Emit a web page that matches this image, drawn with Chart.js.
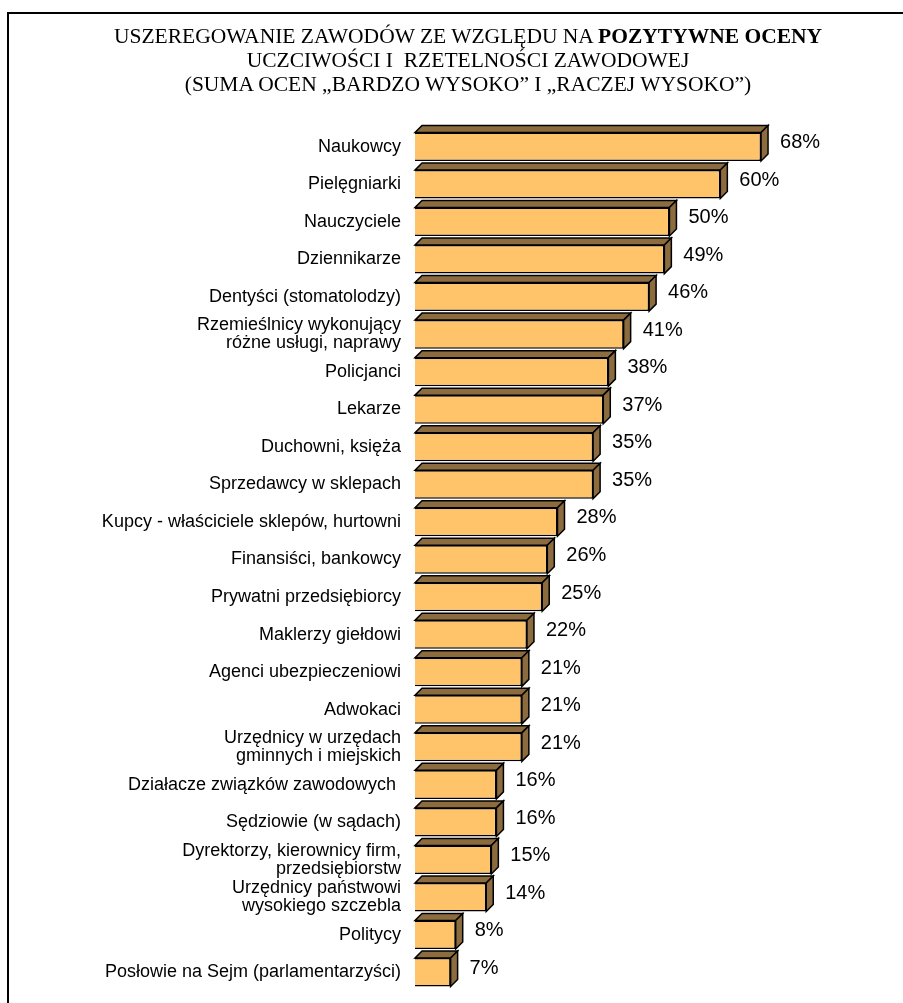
<!DOCTYPE html>
<html>
<head>
<meta charset="utf-8">
<script src="https://cdn.jsdelivr.net/npm/chart.js@4.4.1/dist/chart.umd.min.js"></script>
<style>
  html, body { margin: 0; padding: 0; background: #fff; }
  #wrap { position: relative; width: 903px; height: 1003px; overflow: hidden; }
  #frame { position: absolute; left: 7px; top: 12px; width: 940px; height: 1040px; border: 2px solid #000; box-sizing: border-box; }
  #title { position: absolute; left: 0; top: 24px; width: 936px; text-align: center;
           font-family: "Liberation Serif", "Times New Roman", serif; font-size: 21.5px; line-height: 24px; color: #000; }
  canvas { position: absolute; left: 0; top: 0; }
</style>
</head>
<body>
<div id="wrap">
  <div id="frame"></div>
  <canvas id="c" width="903" height="1003"></canvas>
  <div id="title">
    USZEREGOWANIE ZAWODÓW ZE WZGLĘDU NA <b>POZYTYWNE OCENY</b><br>
    UCZCIWOŚCI I&nbsp; RZETELNOŚCI ZAWODOWEJ<br>
    (SUMA OCEN „BARDZO WYSOKO” I „RACZEJ WYSOKO”)
  </div>
</div>
<script>
const categories = [
  "Naukowcy",
  "Pielęgniarki",
  "Nauczyciele",
  "Dziennikarze",
  "Dentyści (stomatolodzy)",
  ["Rzemieślnicy wykonujący", "różne usługi, naprawy"],
  "Policjanci",
  "Lekarze",
  "Duchowni, księża",
  "Sprzedawcy w sklepach",
  "Kupcy - właściciele sklepów, hurtowni",
  "Finansiści, bankowcy",
  "Prywatni przedsiębiorcy",
  "Maklerzy giełdowi",
  "Agenci ubezpieczeniowi",
  "Adwokaci",
  ["Urzędnicy w urzędach", "gminnych i miejskich"],
  "Działacze związków zawodowych ",
  "Sędziowie (w sądach)",
  ["Dyrektorzy, kierownicy firm,", "przedsiębiorstw"],
  ["Urzędnicy państwowi", "wysokiego szczebla"],
  "Politycy",
  "Posłowie na Sejm (parlamentarzyści)"
];
const values = [68, 60, 50, 49, 46, 41, 38, 37, 35, 35, 28, 26, 25, 22, 21, 21, 21, 16, 16, 15, 14, 8, 7];
const valueSuffix = "%";

const DEPTH = 7;
const FRONT = "#FFC46A";
const SIDE = "#8C6B3E";

const bar3d = {
  id: "bar3d",
  afterDatasetsDraw(chart) {
    const ctx = chart.ctx;
    const meta = chart.getDatasetMeta(0);
    ctx.save();
    ctx.lineJoin = "miter";
    meta.data.forEach((bar, i) => {
      const p = bar.getProps(["x", "y", "base", "height"], true);
      const l = p.base, r = p.x, t = p.y - p.height / 2, b = p.y + p.height / 2;
      ctx.fillStyle = SIDE;
      ctx.strokeStyle = "#000";
      ctx.lineWidth = 1.5;
      ctx.beginPath();
      ctx.moveTo(l, t); ctx.lineTo(l + DEPTH, t - DEPTH); ctx.lineTo(r + DEPTH, t - DEPTH); ctx.lineTo(r, t); ctx.closePath();
      ctx.fill(); ctx.stroke();
      ctx.beginPath();
      ctx.moveTo(r, t); ctx.lineTo(r + DEPTH, t - DEPTH); ctx.lineTo(r + DEPTH, b - DEPTH); ctx.lineTo(r, b); ctx.closePath();
      ctx.fill(); ctx.stroke();
      ctx.fillStyle = "#000";
      ctx.font = '20px "Liberation Sans", Arial, sans-serif';
      ctx.textAlign = "left";
      ctx.textBaseline = "middle";
      ctx.fillText(values[i] + valueSuffix, r + DEPTH + 12, p.y - 4);
    });
    ctx.restore();
  }
};

new Chart(document.getElementById("c"), {
  type: "bar",
  data: {
    labels: categories,
    datasets: [{
      data: values,
      backgroundColor: FRONT,
      borderColor: "#000",
      borderWidth: 1.5,
      barPercentage: 0.76,
      categoryPercentage: 1
    }]
  },
  options: {
    indexAxis: "y",
    responsive: false,
    animation: false,
    layout: { padding: { top: 128, bottom: 12, right: 30, left: 0 } },
    plugins: { legend: { display: false }, tooltip: { enabled: false }, title: { display: false } },
    scales: {
      x: { display: false, min: 0, max: 90 },
      y: {
        grid: { display: false },
        border: { display: false },
        ticks: {
          color: "#000",
          padding: 6,
          autoSkip: false,
          font: { family: '"Liberation Sans", Arial, sans-serif', size: 18, lineHeight: 1.0 }
        },
        afterFit(scale) { scale.width = 415; scale.paddingTop = 0; scale.paddingBottom = 0; }
      }
    }
  },
  plugins: [bar3d]
});
</script>
</body>
</html>
